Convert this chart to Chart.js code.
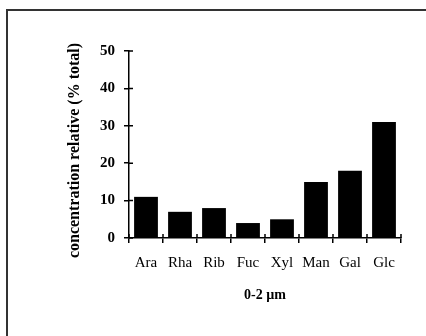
<!DOCTYPE html>
<html>
<head>
<meta charset="utf-8">
<script src="https://cdn.jsdelivr.net/npm/chart.js@4"></script>
<style>
  html, body { margin: 0; padding: 0; background: #fff; overflow: hidden; }
  #wrap { position: relative; width: 426px; height: 336px; overflow: hidden; }
  #frame { position: absolute; left: 6px; top: 9px; width: 418px; height: 325px;
           border-left: 2px solid #333; border-top: 2px solid #333; pointer-events: none; }
</style>
</head>
<body>
<div id="wrap">
  <canvas id="chart" width="426" height="336"></canvas>
  <div id="frame"></div>
</div>
<script>
// data
const sugars = ['Ara', 'Rha', 'Rib', 'Fuc', 'Xyl', 'Man', 'Gal', 'Glc'];
const concentration = [11, 7, 8, 4, 5, 15, 18, 31];
const yTicks = [0, 10, 20, 30, 40, 50];

const serif = "'Liberation Serif', 'Times New Roman', serif";

// petits traits vers l'intérieur (ticks croisés)
const innerTicks = {
  id: 'innerTicks',
  afterDatasetsDraw(chart) {
    const { ctx, scales: { x, y } } = chart;
    ctx.save();
    ctx.strokeStyle = '#000';
    ctx.lineWidth = 1.5;
    ctx.beginPath();
    for (let k = 0; k <= sugars.length; k++) {
      const px = x.getPixelForValue(k - 0.5);
      ctx.moveTo(px, y.bottom);
      ctx.lineTo(px, y.bottom - 4);
    }
    yTicks.forEach(v => {
      const py = y.getPixelForValue(v);
      ctx.moveTo(x.left, py);
      ctx.lineTo(x.left + 4, py);
    });
    ctx.stroke();
    ctx.restore();
  }
};

new Chart(document.getElementById('chart'), {
  type: 'bar',
  data: {
    labels: sugars,
    datasets: [{
      data: concentration,
      backgroundColor: '#000',
      borderWidth: 0,
      barPercentage: 0.7,
      categoryPercentage: 1
    }]
  },
  options: {
    responsive: false,
    animation: false,
    layout: { padding: { top: 51, right: 25, left: 0, bottom: 0 } },
    plugins: { legend: { display: false }, tooltip: { enabled: false } },
    scales: {
      x: {
        afterFit: s => { s.height = 98; },
        grid: { offset: true, drawOnChartArea: false, drawTicks: true, tickLength: 5, color: '#000', lineWidth: 1.5 },
        border: { display: true, color: '#000', width: 1.5 },
        ticks: { color: '#000', padding: 11, font: { family: serif, size: 15 }, maxRotation: 0 },
        title: { display: true, text: '0-2 µm', color: '#000',
                 font: { family: serif, size: 14, weight: 'bold' }, padding: { top: 0, bottom: 32 } }
      },
      y: {
        min: 0,
        max: 50,
        afterFit: s => { s.width = 129; },
        afterBuildTicks: s => { s.ticks = yTicks.map(v => ({ value: v })); },
        grid: { drawOnChartArea: false, drawTicks: true, tickLength: 5, color: '#000', lineWidth: 1.5 },
        border: { display: true, color: '#000', width: 1.5 },
        ticks: { color: '#000', padding: 9, font: { family: serif, size: 15, weight: 'bold' } },
        // espaces insécables en fin de texte : décale le titre vers le bas comme dans l'original
        title: { display: true, text: 'concentration relative (% total)\u00a0\u00a0\u00a0', color: '#000',
                 font: { family: serif, size: 16, weight: 'bold' }, padding: { top: 65, bottom: 0 } }
      }
    }
  },
  plugins: [innerTicks]
});
</script>
</body>
</html>
